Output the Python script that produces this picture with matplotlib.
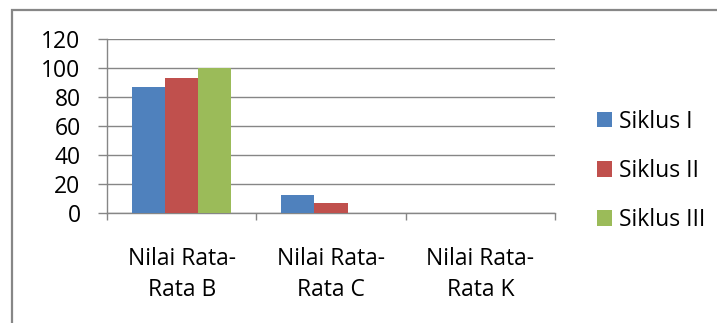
import matplotlib
matplotlib.use('Agg')
import matplotlib.pyplot as plt
import matplotlib.patches as mpatches
import numpy as np

plt.rcParams['font.family'] = ['Open Sans', 'DejaVu Sans']

categories = ['Nilai Rata-\nRata B', 'Nilai Rata-\nRata C', 'Nilai Rata-\nRata K']
series_names = ['Siklus I', 'Siklus II', 'Siklus III']
siklus_1 = [87, 12, 0]
siklus_2 = [93.3, 6.5, 0]
siklus_3 = [100, 0, 0]
colors = ['#4F81BD', '#C0504D', '#9BBB59']
grid_color = '#868686'
fs = 16.5

fig = plt.figure(figsize=(7.17, 3.23), dpi=100)
ax = fig.add_axes([107 / 717, 1 - 212.7 / 323, (555 - 107) / 717, (212.7 - 39.3) / 323])

x = np.arange(len(categories))
width = 0.222
for i, (vals, name) in enumerate(zip([siklus_1, siklus_2, siklus_3], series_names)):
    ax.bar(x + (i - 1) * width, vals, width, color=colors[i], label=name, zorder=3)

ax.set_xlim(-0.5, len(categories) - 0.5)
ax.set_ylim(0, 120)
ax.set_yticks(range(0, 121, 20))
ax.yaxis.grid(True, color=grid_color, linewidth=1.0, zorder=0)

ax.set_xticks(x)
ax.set_xticklabels(categories, fontsize=fs, linespacing=1.39)
ax.set_xticks(np.arange(-0.5, len(categories)), minor=True)
ax.tick_params(axis='x', which='major', length=0, pad=25)
ax.tick_params(axis='x', which='minor', length=5, color=grid_color, width=1)
ax.tick_params(axis='y', length=6.5, color=grid_color, width=1, labelsize=fs, pad=12.5)

for side in ['top', 'right']:
    ax.spines[side].set_visible(False)
for side in ['left', 'bottom']:
    ax.spines[side].set_color(grid_color)
    ax.spines[side].set_linewidth(1.0)

# outer chart border (right and bottom edges fall outside the crop)
fig.patches.append(mpatches.Rectangle((12 / 717, -0.1), 1.2, 1 - 10 / 323 + 0.1,
                                      transform=fig.transFigure, fill=False,
                                      edgecolor='#878787', linewidth=1.6))

ax.legend(loc='center left', bbox_to_anchor=(597 / 717, 1 - 171 / 323),
          bbox_transform=fig.transFigure, frameon=False, fontsize=fs,
          handlelength=0.655, handleheight=0.655, handletextpad=0.3,
          labelspacing=1.1, borderaxespad=0, borderpad=0)

fig.savefig('out.png', dpi=100)
